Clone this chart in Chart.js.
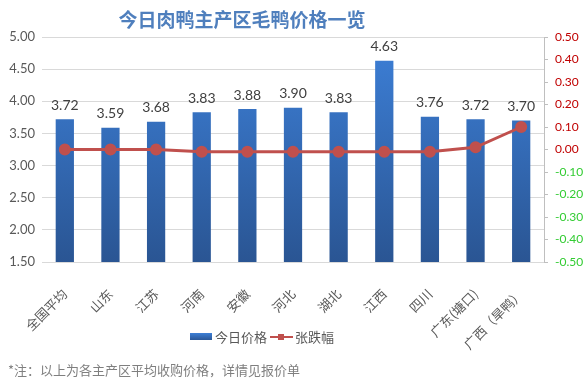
<!DOCTYPE html>
<html><head><meta charset="utf-8">
<script src="https://cdn.jsdelivr.net/npm/chart.js@4/dist/chart.umd.min.js"></script>
<style>html,body{margin:0;padding:0;background:#fff;}#wrap{width:585px;height:386px;position:relative;}</style>
</head><body><div id="wrap"><canvas id="c" width="585" height="386"></canvas></div>
<script>
const categories = ['全国平均','山东','江苏','河南','安徽','河北','湖北','江西','四川','广东(塘口)','广西（旱鸭）'];
const prices = [3.72,3.59,3.68,3.83,3.88,3.90,3.83,4.63,3.76,3.72,3.70];
const changes = [0,0,0,-0.01,-0.01,-0.01,-0.01,-0.01,-0.01,0.01,0.10];
const titleText = '今日肉鸭主产区毛鸭价格一览';
const noteText = '*注：以上为各主产区平均收购价格，详情见报价单';
const seriesNames = ['今日价格','张跌幅'];

const FONT = "Lato, 'Noto Sans CJK SC', sans-serif";
const CJK = "'Noto Sans CJK SC', sans-serif";
const RED = '#c0504d';

const extras = {
  id:'extras',
  afterDatasetsDraw(chart){
    const ctx = chart.ctx;
    const meta = chart.getDatasetMeta(1);
    ctx.save();
    ctx.font = "14px " + FONT;
    ctx.fillStyle = '#404040';
    ctx.textAlign = 'center';
    ctx.textBaseline = 'middle';
    meta.data.forEach((bar,i)=>{
      ctx.fillText(prices[i].toFixed(2), bar.x, bar.y - 14);
    });
    ctx.restore();
  },
  afterDraw(chart){
    const ctx = chart.ctx;
    ctx.save();
    ctx.font = "bold 19px " + CJK;
    ctx.fillStyle = '#4f7fbd';
    ctx.textAlign = 'center';
    ctx.textBaseline = 'middle';
    ctx.fillText(titleText, 242, 20);
    ctx.font = "13px " + CJK;
    ctx.textAlign = 'left';
    const g = ctx.createLinearGradient(0,333,0,340);
    g.addColorStop(0,'#3d7fd6'); g.addColorStop(1,'#2b5797');
    ctx.fillStyle = g;
    ctx.fillRect(190,333,22,7);
    ctx.fillStyle = '#595959';
    ctx.fillText(seriesNames[0], 215, 337);
    ctx.strokeStyle = RED; ctx.lineWidth = 2;
    ctx.beginPath(); ctx.moveTo(270,337); ctx.lineTo(293,337); ctx.stroke();
    ctx.fillStyle = RED; ctx.fillRect(278,334,6,6);
    ctx.fillStyle = '#595959';
    ctx.fillText(seriesNames[1], 295, 337);
    ctx.fillStyle = '#7f7f7f';
    ctx.fillText(noteText, 8, 370);
    ctx.restore();
  }
};

new Chart(document.getElementById('c'), {
  data:{
    labels: categories,
    datasets:[
      {type:'line', label:seriesNames[1], data:changes, yAxisID:'y1', order:0,
       borderColor:RED, backgroundColor:RED, borderWidth:3, pointRadius:4.5, pointHoverRadius:4.5,
       pointStyle:'circle', tension:0},
      {type:'bar', label:seriesNames[0], data:prices, yAxisID:'y', order:1,
       barPercentage:0.4, categoryPercentage:1,
       backgroundColor:(c)=>{
         const a=c.chart.chartArea; if(!a) return '#3570c0';
         const g=c.chart.ctx.createLinearGradient(0,a.top,0,a.bottom);
         g.addColorStop(0,'#3d80d8'); g.addColorStop(1,'#2a5593'); return g;
       }}
    ]
  },
  options:{
    responsive:false, animation:false,
    layout:{padding:{top:37,left:0,right:0,bottom:0}},
    plugins:{legend:{display:false}, title:{display:false}, tooltip:{enabled:false}},
    scales:{
      x:{grid:{display:false}, border:{display:false},
         ticks:{autoSkip:false, maxRotation:45, minRotation:45, color:'#595959', padding:16,
                font:{family:CJK, size:13}},
         afterFit(s){ s.height = 124; }},
      y:{position:'left', min:1.5, max:5, 
         ticks:{stepSize:0.5, color:'#595959', padding:7, font:{family:FONT,size:13},
                callback:v=>v.toFixed(2)},
         grid:{color:'#d9d9d9', drawTicks:false}, border:{display:false},
         afterFit(s){ s.width = 42; }},
      y1:{position:'right', min:-0.5, max:0.5,
         ticks:{stepSize:0.1, padding:7, font:{family:FONT,size:12},
                color:(c)=> c.tick.value < -1e-9 ? '#33cc33' : '#c00000',
                callback:v=>Math.abs(v)<1e-9 ? '0.00' : v.toFixed(2)},
         grid:{drawOnChartArea:false, color:'#bfbfbf', tickLength:4},
         border:{display:true, color:'#bfbfbf'},
         afterFit(s){ s.width = 41; }}
    }
  },
  plugins:[extras]
});
</script></body></html>
